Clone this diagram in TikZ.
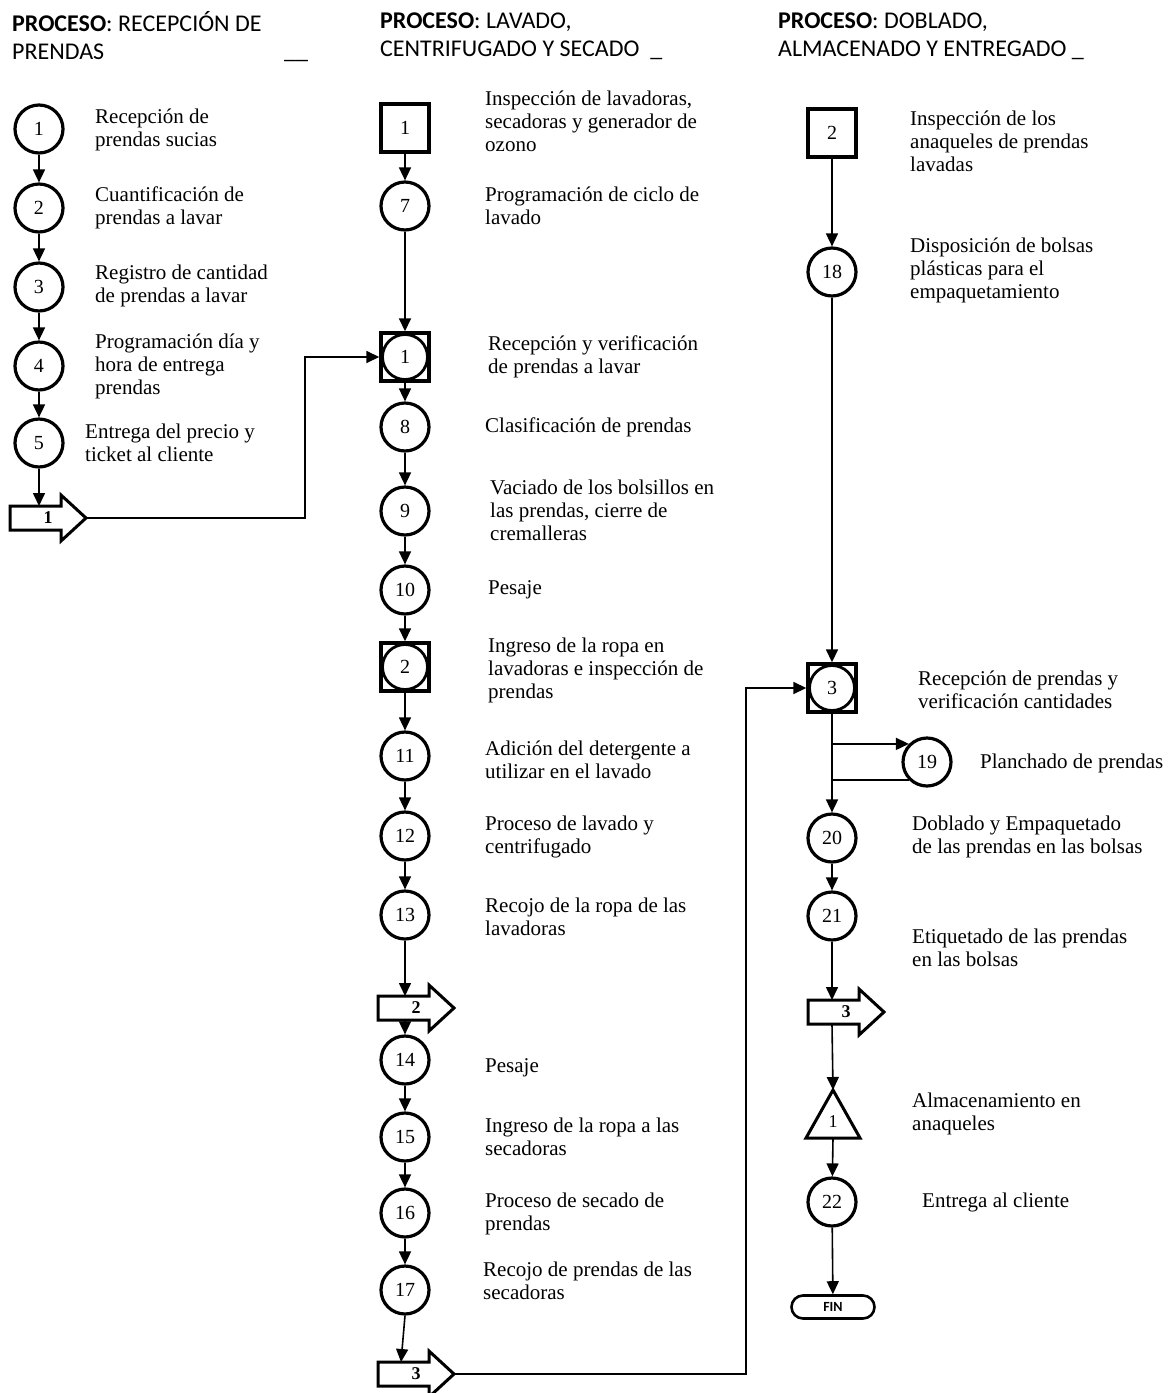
\documentclass[tikz,border=0pt]{standalone}
\usepackage{fontspec}
\setmainfont{Liberation Serif}
\newfontfamily\headfont{Carlito}
\usetikzlibrary{arrows.meta,calc,shapes.misc}

\tikzset{
  op/.style={circle, draw, line width=3.2pt, minimum size=48pt, inner sep=0pt,
    fill=white, font=\fontsize{20}{20}\selectfont},
  insp/.style={rectangle, draw, line width=3.4pt, minimum size=48pt, inner sep=0pt,
    fill=white, font=\fontsize{20}{20}\selectfont},
  combo/.style={insp, path picture={
    \draw[line width=2.8pt] (path picture bounding box.center) circle (22.5pt);
    \fill (path picture bounding box.north west) -- ++(8pt,0pt) -- ++(-8pt,-8pt) -- cycle;
    \fill (path picture bounding box.north east) -- ++(-8pt,0pt) -- ++(8pt,-8pt) -- cycle;
    \fill (path picture bounding box.south west) -- ++(8pt,0pt) -- ++(-8pt,8pt) -- cycle;
    \fill (path picture bounding box.south east) -- ++(-8pt,0pt) -- ++(8pt,8pt) -- cycle;}},
  flow/.style={line width=1.6pt, -{Triangle[width=12pt,length=13pt]}},
  link/.style={line width=1.6pt},
  desc/.style={anchor=west, align=left, inner sep=0pt, font=\fontsize{21}{23}\selectfont},
  head/.style={anchor=west, align=left, inner sep=0pt, font=\headfont\fontsize{24}{28}\selectfont},
  trans/.style={draw, line width=3pt, line join=miter, fill=white},
  trnum/.style={inner sep=0pt, font=\bfseries\fontsize{18}{18}\selectfont},
  fin/.style={rounded rectangle, draw, line width=2.6pt, minimum width=83pt,
    minimum height=23pt, inner sep=0pt, font=\headfont\bfseries\fontsize{14}{14}\selectfont},
}

% block arrow (transport symbol): name, left x, centre y, column x, label
\newcommand\transportsym[5]{%
  \draw[trans] (#2,#3) ++(0,-12) -- ++(51,0) -- ++(0,-11) -- ++(25,23)
    -- ++(-25,23) -- ++(0,-11) -- ++(-51,0) -- cycle;
  \node[trnum] (#1) at ($(#2,#3)+(38,0)$) {#5};
  \coordinate (#1-tip) at ($(#2,#3)+(76,0)$);
  \coordinate (#1-n) at (#4,#3-12);
  \coordinate (#1-s) at (#4,#3+12);
}

\begin{document}
\begin{tikzpicture}[x=1pt,y=-1pt]
\useasboundingbox (0,0) rectangle (1168,1393);

% ---------- headers ----------
\node[head] (h1) at (12,36) {\textbf{PROCESO}: RECEPCIÓN DE\\PRENDAS};
\node[head, anchor=base west] (h1u) at (284,58) {\_\_};
\node[head] (h2) at (380,36) {\textbf{PROCESO}: LAVADO,\\CENTRIFUGADO Y SECADO\ \ \_};
\node[head] (h3) at (778,36) {\textbf{PROCESO}: DOBLADO,\\ALMACENADO Y ENTREGADO \_};

% ---------- column 1 ----------
\node[op] (c1) at (39,129) {1};
\node[op] (c2) at (39,208) {2};
\node[op] (c3) at (39,287) {3};
\node[op] (c4) at (39,366) {4};
\node[op] (c5) at (39,443) {5};
\transportsym{a1}{10}{518}{39}{1}

\node[desc] (t1) at (95,130) {Recepción de\\prendas sucias};
\node[desc] (t2) at (95,208) {Cuantificación de\\prendas a lavar};
\node[desc] (t3) at (95,286) {Registro de cantidad\\de prendas a lavar};
\node[desc] (t4) at (95,366) {Programación día y\\hora de entrega\\prendas};
\node[desc] (t5) at (85,443) {Entrega del precio y\\ticket al cliente};

\draw[flow] (c1) -- (c2);
\draw[flow] (c2) -- (c3);
\draw[flow] (c3) -- (c4);
\draw[flow] (c4) -- (c5);
\draw[flow] (c5) -- (a1-n);

% ---------- column 2 ----------
\node[insp] (s1) at (405,128) {1};
\node[op] (c7) at (405,206) {7};
\node[combo] (r1) at (405,357) {1};
\node[op] (c8) at (405,427) {8};
\node[op] (c9) at (405,511) {9};
\node[op] (c10) at (405,590) {10};
\node[combo] (r2) at (405,667) {2};
\node[op] (c11) at (405,756) {11};
\node[op] (c12) at (405,836) {12};
\node[op] (c13) at (405,915) {13};
\transportsym{a2}{378}{1008}{405}{2}
\node[op] (c14) at (405,1060) {14};
\node[op] (c15) at (405,1137) {15};
\node[op] (c16) at (405,1213) {16};
\node[op] (c17) at (405,1290) {17};
\transportsym{a3}{378}{1374}{401}{3}

\node[desc] (u1) at (485,121) {Inspección de lavadoras,\\secadoras y generador de\\ozono};
\node[desc] (u7) at (485,206) {Programación de ciclo de\\lavado};
\node[desc] (ur1) at (488,357) {Recepción y verificación\\de prendas a lavar};
\node[desc] (u8) at (485,427) {Clasificación de prendas};
\node[desc] (u9) at (490,510) {Vaciado de los bolsillos en\\las prendas, cierre de\\cremalleras};
\node[desc] (u10) at (488,590) {Pesaje};
\node[desc] (ur2) at (488,670) {Ingreso de la ropa en\\lavadoras e inspección de\\prendas};
\node[desc] (u11) at (485,760) {Adición del detergente a\\utilizar en el lavado};
\node[desc] (u12) at (485,837) {Proceso de lavado y\\centrifugado};
\node[desc] (u13) at (485,917) {Recojo de la ropa de las\\lavadoras};
\node[desc] (u14) at (485,1068) {Pesaje};
\node[desc] (u15) at (485,1137) {Ingreso de la ropa a las\\secadoras};
\node[desc] (u16) at (485,1214) {Proceso de secado de\\prendas};
\node[desc] (u17) at (483,1281) {Recojo de prendas de las\\secadoras};

\draw[flow] (s1) -- (c7);
\draw[flow] (c7) -- (r1);
\draw[flow] (r1) -- (c8);
\draw[flow] (c8) -- (c9);
\draw[flow] (c9) -- (c10);
\draw[flow] (c10) -- (r2);
\draw[flow] (r2) -- (c11);
\draw[flow] (c11) -- (c12);
\draw[flow] (c12) -- (c13);
\draw[flow] (c13) -- (c13 |- a2-n);
\draw[flow] (c14 |- a2-s) -- (c14);
\draw[flow] (c14) -- (c15);
\draw[flow] (c15) -- (c16);
\draw[flow] (c16) -- (c17);
\draw[flow] (c17.south) -- (a3-n);

% transfer from column 1 into column 2
\draw[flow] (a1-tip) -- +(219,0) |- (r1.west);

% ---------- column 3 ----------
\node[insp] (s2) at (832,133) {2};
\node[op] (c18) at (832,272) {18};
\node[combo] (r3) at (832,688) {3};
\node[op] (c19) at (927,762) {19};
\node[op] (c20) at (832,838) {20};
\node[op] (c21) at (832,916) {21};
\transportsym{a4}{808}{1012}{832}{3}
\coordinate (tri-apex) at (833,1090);
\coordinate (tri-base) at (833,1138);
\draw[line width=3pt, line join=miter, fill=white] (tri-apex) -- (806,1138) -- (860,1138) -- cycle;
\node[inner sep=0pt, font=\fontsize{18}{18}\selectfont] (tri) at (833,1122) {1};
\node[op] (c22) at (832,1202) {22};
\node[fin] (fin) at (833,1307) {FIN};

\node[desc] (v2) at (910,141) {Inspección de los\\anaqueles de prendas\\lavadas};
\node[desc] (v18) at (910,270) {Disposición de bolsas\\plásticas para el\\empaquetamiento};
\node[desc] (vr3) at (918,690) {Recepción de prendas y\\verificación cantidades};
\node[desc] (v19) at (980,763) {Planchado de prendas};
\node[desc] (v20) at (912,837) {Doblado y Empaquetado\\de las prendas en las bolsas};
\node[desc] (v21) at (912,948) {Etiquetado de las prendas\\en las bolsas};
\node[desc] (vt) at (912,1114) {Almacenamiento en\\anaqueles};
\node[desc] (v22) at (922,1202) {Entrega al cliente};

\draw[flow] (s2) -- (c18);
\draw[flow] (c18) -- (r3);
\draw[flow] (r3) -- (c20);
\draw[flow] (r3.south |- c19.north west) -- (c19.north west);
\draw[link] (c19.south west) -- (r3.south |- c19.south west);
\draw[flow] (c20) -- (c21);
\draw[flow] (c21) -- (a4-n);
\draw[flow] (a4-s) -- (tri-apex);
\draw[flow] (tri-base) -- (c22);
\draw[flow] (c22) -- (fin);

% transfer from column 2 into column 3
\draw[flow] (a3-tip) -- +(292,0) |- (r3.west);
\end{tikzpicture}
\end{document}
